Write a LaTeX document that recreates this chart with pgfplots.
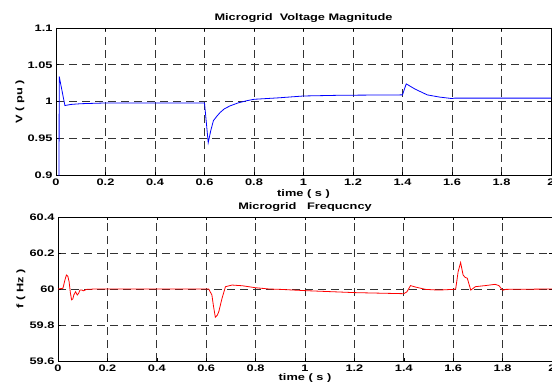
\documentclass[border=0pt]{standalone}
\usepackage{pgfplots}
\pgfplotsset{compat=1.18}
\usepackage{fontspec}
\setmainfont{Liberation Sans}[FakeStretch=1.35]
\begin{document}
\begin{tikzpicture}[x=1bp,y=1bp]
\path[use as bounding box] (0,0) rectangle (552,382);
\pgfplotsset{
  mystyle/.style={
    scale only axis, anchor=south west,
    xmin=0, xmax=2,
    xtick={0,0.2,0.4,0.6,0.8,1,1.2,1.4,1.6,1.8,2},
    xticklabels={0,0.2,0.4,0.6,0.8,1,1.2,1.4,1.6,1.8,2},
    grid=major,
    major grid style={black!80, line width=0.7bp, dash pattern=on 8bp off 5bp},
    axis line style={black, line width=0.9bp},
    tick style={black, line width=0.6bp},
    tick align=inside, major tick length=3bp,
    /pgf/number format/assume math mode=true,
    ticklabel style={font=\bfseries\fontsize{9.5}{10}\selectfont},
    xticklabel style={anchor=base, yshift=-10.5bp},
    label style={font=\bfseries\fontsize{9.5}{10}\selectfont},
    title style={font=\bfseries\fontsize{9.5}{11}\selectfont},
    xlabel={time ( s )},
    clip=true,
  }
}
\begin{axis}[mystyle,
  at={(56bp,207bp)}, width=495bp, height=147bp,
  ymin=0.9, ymax=1.1,
  ytick={0.9,0.95,1,1.05,1.1},
  yticklabels={0.9,0.95,1,1.05,1.1},
  ylabel={V ( pu )},
  ylabel style={at={(axis description cs:-0.0727,0.5)}, anchor=center},
  xlabel style={at={(axis description cs:0.5,0)}, anchor=base, yshift=-21.5bp},
  title={Microgrid\ \ Voltage Magnitude},
  title style={at={(axis description cs:0.5,1)}, anchor=base, yshift=2bp},
]
\addplot[blue, line width=0.8bp] coordinates {
(0.012,0.85) (0.013,1.034) (0.036,0.9945) (0.06,0.996) (0.1,0.997) (0.2,0.998)
(0.4,0.998) (0.6,0.998) (0.615,0.944) (0.625,0.960) (0.636,0.974) (0.650,0.980)
(0.663,0.985) (0.680,0.990) (0.703,0.994) (0.735,0.998) (0.77,1.001) (0.8,1.003)
(0.9,1.005) (1.0,1.0075) (1.15,1.0085) (1.3,1.0088) (1.4,1.009) (1.415,1.024)
(1.45,1.017) (1.5,1.009) (1.55,1.006) (1.6,1.004) (1.61,1.0046) (1.8,1.0046) (2.0,1.0046)
};
\end{axis}
\begin{axis}[mystyle,
  at={(58bp,21bp)}, width=494bp, height=144bp,
  ymin=59.6, ymax=60.4,
  ytick={59.6,59.8,60,60.2,60.4},
  yticklabels={59.6,59.8,60,60.2,60.4},
  ylabel={f ( Hz )},
  ylabel style={at={(axis description cs:-0.0749,0.5)}, anchor=center},
  xlabel style={at={(axis description cs:0.5,0)}, anchor=base, yshift=-19.5bp},
  title={Microgrid\ \ \ Frequcncy},
  title style={at={(axis description cs:0.5,1)}, anchor=base, yshift=2bp},
]
\addplot[red, line width=0.8bp] coordinates {
(0,60) (0.02,60.004) (0.028,60.05) (0.034,60.078) (0.04,60.07) (0.045,60.04)
(0.05,59.98) (0.055,59.94) (0.06,59.945) (0.064,59.967) (0.071,59.985) (0.078,59.967)
(0.083,59.975) (0.089,59.994) (0.096,59.995) (0.103,59.99) (0.116,59.998) (0.15,60)
(0.4,60) (0.61,60) (0.623,59.967) (0.63,59.9) (0.637,59.843) (0.645,59.855)
(0.651,59.874) (0.664,59.948) (0.678,60.013) (0.705,60.022) (0.747,60.018)
(0.80,60.007) (0.856,60.0) (0.9,59.998) (1.0,59.991) (1.2,59.98) (1.4,59.974)
(1.413,59.985) (1.427,60.019) (1.447,60.011) (1.488,59.998) (1.54,59.994)
(1.6,59.998) (1.61,60) (1.62,60.097) (1.63,60.147) (1.64,60.078) (1.648,60.065)
(1.657,60.06) (1.671,59.994) (1.69,60.013) (1.73,60.019) (1.77,60.026)
(1.785,60.019) (1.8,59.993) (1.813,59.998) (2.0,60)
};
\end{axis}
\end{tikzpicture}
\end{document}
